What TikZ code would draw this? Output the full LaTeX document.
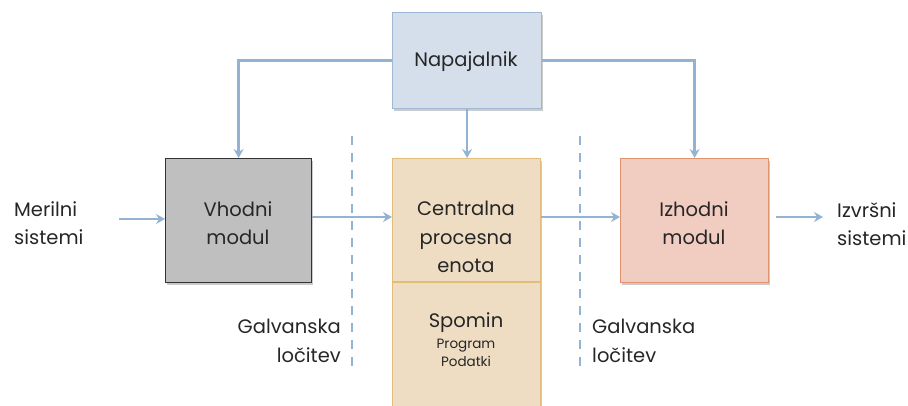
\documentclass[tikz,border=0pt]{standalone}
\usepackage{fontspec}
\setmainfont{Poppins}
\usetikzlibrary{arrows.meta,shadows}
\definecolor{linkblue}{HTML}{93B3D3}
\definecolor{psufill}{HTML}{D5DFEB}
\definecolor{psuedge}{HTML}{9DB9D5}
\definecolor{infill}{HTML}{BFBFBF}
\definecolor{cpufill}{HTML}{EEDDC3}
\definecolor{cpuedge}{HTML}{E2BC7A}
\definecolor{outfill}{HTML}{F1CCC0}
\definecolor{outedge}{HTML}{E0946E}
\tikzset{
  x=1pt, y=-1pt,
  every node/.style={font=\fontsize{19.5}{28.5}\selectfont, text=black!85},
  block/.style={draw, line width=1.2pt, minimum width=146pt, minimum height=124pt,
    align=center, anchor=north west, inner sep=0pt,
    drop shadow={shadow xshift=1.5pt, shadow yshift=-2pt, opacity=0.35, fill=black!60}},
  link/.style={draw=linkblue, line width=2.6pt, -{Stealth[length=9pt,width=10pt,inset=3pt]}},
  barrier/.style={draw=linkblue, line width=2.4pt, dash pattern=on 9pt off 8pt},
  label/.style={align=left, inner sep=0pt}
}
\begin{document}
\begin{tikzpicture}
\useasboundingbox (0,0) rectangle (908,405);
% supply
\node[block, draw=psuedge, fill=psufill, minimum width=149pt, minimum height=96pt]
  (psu) at (392,12) {};
\node[inner sep=0pt] (psuname) at (466,62) {Napajalnik};
% input module
\node[block, draw=black!80, fill=infill] (in) at (165,158) {};
\node[align=center, inner sep=0pt] (inname) at (238,223) {Vhodni\\modul};
% processing unit with memory below
\node[block, draw=cpuedge, fill=cpufill, minimum width=148pt, minimum height=262pt,
  drop shadow={opacity=0}] (cpu) at (392,158) {};
\draw[cpuedge, line width=1.2pt] (cpu.west |- 0,282) coordinate (divl) -- (cpu.east |- 0,282) coordinate (divr);
\node[align=center, inner sep=0pt] (cpuname) at (466,237) {Centralna\\procesna\\enota};
\node[align=center, inner sep=0pt] (mem) at (466,323) {Spomin};
\node[align=center, inner sep=0pt, font=\fontsize{13.5}{18}\selectfont, text=black!85]
  (memsub) at (466,353) {Program\\Podatki};
% output module
\node[block, draw=outedge, fill=outfill, minimum width=148pt] (out) at (620,158) {};
\node[align=center, inner sep=0pt] (outname) at (694,223) {Izhodni\\modul};
% external labels
\node[label, anchor=west] (src) at (14,223) {Merilni\\sistemi};
\node[label, anchor=west] (dst) at (837,224) {Izvršni\\sistemi};
\coordinate (srcend) at (119,219);
\coordinate (dststart) at (776,217);
\coordinate (dstend) at (823,217);
% signal path
\draw[link] (srcend) -- (in.west |- srcend);
\draw[link] (in.east |- 0,217) -- (cpu.west |- 0,217);
\draw[link] (cpu.east |- 0,217) -- (out.west |- 0,217);
\draw[link] (dststart) -- (dstend);
% power distribution
\draw[link] (psu.west) -| (in.north);
\draw[link] (psu.east) -| (out.north);
\draw[link] (psu.south) -- (psu.south |- cpu.north);
% isolation barriers
\coordinate (b1t) at (352,136); \coordinate (b1b) at (352,366);
\coordinate (b2t) at (580,136); \coordinate (b2b) at (580,366);
\draw[barrier] (b1t) -- (b1b);
\draw[barrier] (b2t) -- (b2b);
\node[align=right, anchor=east, inner sep=0pt] (iso1) at (341,341) {Galvanska\\ločitev};
\node[align=left, anchor=west, inner sep=0pt] (iso2) at (592,341) {Galvanska\\ločitev};
\end{tikzpicture}
\end{document}
